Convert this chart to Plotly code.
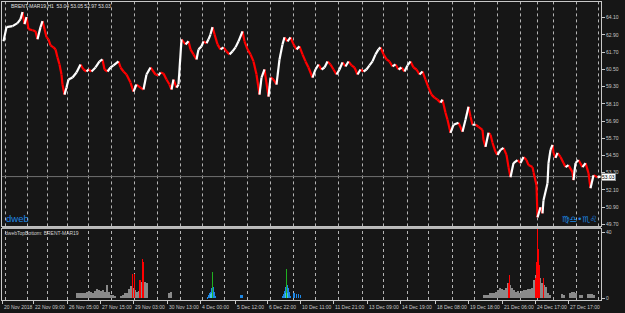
import plotly.graph_objects as go

# ---------------- data ----------------
# H1 bar index and close price (BRENT-MAR19)
bar_idx = [1, 4, 10, 15, 18, 20, 22, 24, 26, 30, 33, 35, 38, 40, 42, 44, 46, 48, 51, 53,
           55, 57, 59, 60, 62, 64, 66, 70, 74, 78, 81, 84, 86, 89, 93, 97, 100, 102, 105, 108,
           111, 116, 118, 121, 124, 128, 131, 134, 138, 141, 144, 148, 153, 156, 158, 161, 164, 167, 169, 171,
           174, 176, 179, 183, 186, 188, 191, 194, 196, 199, 201, 204, 206, 208, 210, 212, 215, 218, 221, 224,
           227, 230, 233, 236, 240, 242, 245, 248, 251, 254, 257, 259, 262, 266, 268, 271, 274, 277, 280, 282,
           285, 288, 291, 294, 297, 300, 303, 306, 310, 313, 316, 319, 322, 325, 328, 331, 334, 337, 340, 343,
           346, 349, 352, 355, 358, 361, 364, 367, 370, 373, 376, 378, 381, 384, 387, 390, 393, 396, 399, 402,
           405, 408, 411, 414, 417, 420, 423, 426, 429, 432, 435, 438, 440, 443, 445, 448, 451, 456, 460, 463,
           466, 468, 470, 473, 476, 480, 481, 483, 486, 488, 490, 493, 495, 498, 501, 504, 506, 508, 511, 515,
           518, 521, 524, 526, 530, 531, 534, 535, 538, 540, 541, 545, 546, 548, 550, 551, 553, 555, 558, 561,
           563, 566, 570, 571, 573, 576, 580, 583, 586, 588, 591, 595, 598]
close_px = [62.45, 63.44, 63.51, 63.72, 64.00, 64.49, 63.65, 64.14, 63.30, 63.22, 63.15, 62.59, 63.44, 63.86, 63.30, 62.73, 62.59, 62.17, 62.03, 61.89,
            61.33, 60.84, 60.14, 59.44, 58.74, 59.23, 59.79, 59.93, 60.28, 60.84, 60.49, 60.35, 60.49, 60.35, 60.63, 61.05, 61.19, 60.49, 60.35, 60.63,
            60.77, 61.05, 60.63, 60.35, 60.14, 59.58, 58.95, 59.44, 59.23, 59.09, 60.14, 60.63, 60.14, 60.07, 60.28, 60.21, 59.79, 59.44, 59.09, 59.79,
            59.23, 59.44, 62.59, 62.24, 62.45, 61.89, 61.54, 61.19, 61.89, 62.10, 62.45, 62.31, 62.59, 62.94, 63.44, 62.94, 62.24, 61.89, 62.03, 61.75,
            61.54, 61.75, 62.03, 62.45, 63.15, 62.45, 61.89, 61.54, 61.05, 60.14, 58.74, 59.93, 60.49, 58.60, 59.93, 59.79, 59.44, 61.19, 62.24, 62.73,
            62.45, 62.73, 62.24, 61.89, 62.10, 61.54, 61.05, 60.63, 59.93, 60.49, 60.84, 60.49, 60.63, 61.05, 60.84, 60.49, 60.14, 60.49, 60.98, 60.70,
            61.05, 60.77, 60.63, 60.14, 60.49, 60.35, 60.49, 60.77, 61.05, 61.54, 61.89, 62.03, 61.54, 61.19, 61.05, 60.70, 60.84, 60.49, 60.63, 60.35,
            60.77, 61.05, 60.63, 60.49, 60.14, 60.35, 59.79, 59.23, 58.74, 58.53, 58.39, 58.18, 58.39, 57.48, 56.99, 56.08, 56.64, 56.78, 56.15, 56.99,
            57.90, 57.20, 56.64, 56.64, 56.50, 56.29, 55.59, 55.10, 56.08, 55.94, 55.38, 54.75, 54.54, 54.89, 55.03, 54.54, 53.69, 52.99, 53.97, 54.18,
            53.97, 54.40, 54.18, 53.83, 53.69, 53.34, 52.43, 50.19, 50.89, 50.47, 51.38, 52.57, 53.97, 54.89, 55.24, 54.68, 54.33, 54.68, 54.40, 53.97,
            53.69, 53.83, 53.34, 52.78, 53.97, 54.18, 53.69, 53.97, 53.27, 52.22, 53.13, 52.99, 53.03]
last_price = 53.03

# indicator dwebTopBottom
gray_idx = [74, 76, 78, 80, 82, 84, 86, 88, 90, 92, 94, 96, 98, 100, 102, 104, 106, 108, 110, 112,
            118, 120, 122, 124, 126, 128, 130, 132, 134, 136, 138, 140, 142, 144,
            166, 168,
            481, 483, 485, 487, 489, 491, 493, 495, 497, 499, 501, 503, 505, 507, 509, 511, 513,
            515, 517, 519, 521, 523, 525, 527, 529, 531, 533, 535, 537, 539, 541, 543, 545, 547,
            559, 561, 567, 569, 571, 573, 577, 579, 585, 587, 589, 591]
gray_val = [3.5, 3.5, 3, 3.5, 3.5, 4, 4.5, 4, 3.5, 4.5, 5.5, 5, 4.5, 5, 4, 8, 4, 2, 2, 1.5,
            1.5, 2, 3, 3.5, 5.5, 7.5, 6, 5, 4, 4.5, 10, 11, 10, 9,
            3.5, 4,
            2, 2, 2, 3.5, 3.5, 3.5, 4, 5, 6, 5.5, 5, 6.5, 9.5, 8, 6, 5, 4,
            4.5, 3.5, 4.5, 5, 5, 5.5, 5.5, 6.5, 11, 14, 15, 12, 9.5, 8, 7, 3, 2,
            2.5, 2, 3, 4, 4, 3, 2, 2, 2.5, 2.5, 2.5, 2]
red_idx = [130, 132, 137, 138, 140, 141, 506, 507, 533, 534, 535, 536, 537, 541]
red_val = [15, 15, 11, 11, 24, 22, 9, 14, 12, 22, 44, 30, 20, 12.5]
blue_idx = [205, 206, 207, 208, 209, 210, 211, 212, 213, 238, 239, 240,
            280, 281, 282, 283, 284, 285, 286, 287, 288, 291, 292, 294, 296, 298]
blue_val = [1, 2, 3, 4, 6, 7, 7, 4, 1.5, 2, 2, 2,
            1.5, 2.5, 4.5, 7, 9, 8, 6.5, 4, 1.5, 3.5, 3.5, 2.5, 2.5, 2]
cyan_idx = [208, 209, 210, 283, 284, 285]
cyan_val = [2.5, 3.5, 3, 3, 4.5, 3.5]
green_idx = [210, 284]
green_val = [16, 18]

# axes
price_ticks = [49.70, 50.90, 52.10, 53.30, 54.50, 55.70, 56.90, 58.10, 59.30, 60.50, 61.70, 62.90, 64.10]
ind_ticks = [0, 40]
day_bars = [3, 25, 45, 65, 86, 109, 132, 155, 178, 200, 222, 245, 268, 291, 313, 336, 360, 381,
            405, 426, 450, 472, 495, 518, 535, 551, 574, 596]
time_bars = [0, 31, 65, 98, 131, 165, 198, 233, 265, 298, 331, 365, 398, 433, 466, 500, 533, 566]
time_labels = ["20 Nov 2018", "22 Nov 09:00", "26 Nov 05:00", "27 Nov 15:00", "29 Nov 03:00",
               "30 Nov 13:00", "4 Dec 00:00", "5 Dec 12:00", "6 Dec 22:00", "10 Dec 11:00",
               "11 Dec 21:00", "13 Dec 09:00", "14 Dec 19:00", "18 Dec 08:00", "19 Dec 18:00",
               "21 Dec 06:00", "24 Dec 17:00", "27 Dec 17:00"]

# ---------------- figure ----------------
FONT = "Liberation Sans"
TXT = "#c8c8c8"
FRAME = "#c8c8c8"
BG = "#161616"
FS = 5

up_x, up_y, dn_x, dn_y = [], [], [], []
for i in range(len(bar_idx) - 1):
    if close_px[i + 1] >= close_px[i]:
        up_x += [bar_idx[i], bar_idx[i + 1], None]
        up_y += [close_px[i], close_px[i + 1], None]
    else:
        dn_x += [bar_idx[i], bar_idx[i + 1], None]
        dn_y += [close_px[i], close_px[i + 1], None]

fig = go.Figure()
fig.add_trace(go.Scatter(x=dn_x, y=dn_y, mode="lines", line=dict(color="#ff0000", width=2.2),
                         xaxis="x", yaxis="y", hoverinfo="skip"))
fig.add_trace(go.Scatter(x=up_x, y=up_y, mode="lines", line=dict(color="#ffffff", width=2.2),
                         xaxis="x", yaxis="y", hoverinfo="skip"))

fig.add_trace(go.Bar(x=gray_idx, y=gray_val, width=2, marker=dict(color="#8a8a8a", line=dict(width=0)),
                     xaxis="x2", yaxis="y2"))
fig.add_trace(go.Bar(x=blue_idx, y=blue_val, width=1, marker=dict(color="#1e88e5", line=dict(width=0)),
                     xaxis="x2", yaxis="y2"))
fig.add_trace(go.Bar(x=cyan_idx, y=cyan_val, width=1, marker=dict(color="#40c4f0", line=dict(width=0)),
                     xaxis="x2", yaxis="y2"))
fig.add_trace(go.Bar(x=green_idx, y=green_val, width=1, marker=dict(color="#20b020", line=dict(width=0)),
                     xaxis="x2", yaxis="y2"))
fig.add_trace(go.Bar(x=red_idx, y=red_val, width=1, marker=dict(color="#ff0000", line=dict(width=0)),
                     xaxis="x2", yaxis="y2"))

shapes = []
for b in day_bars:
    for yr in ("y domain", "y2 domain"):
        shapes.append(dict(type="line", xref="x", yref=yr, x0=b, x1=b, y0=0, y1=1,
                           line=dict(color="#b4b4b4", width=1, dash="dot"), layer="below"))
shapes.append(dict(type="line", xref="x domain", yref="y", x0=0, x1=1, y0=last_price, y1=last_price,
                   line=dict(color="#707070", width=1), layer="below"))
# separator between windows
shapes.append(dict(type="rect", xref="paper", yref="paper", x0=0, x1=1, y0=0.238, y1=0.247,
                   fillcolor="#b8b8b8", line=dict(width=0)))

annotations = [
    dict(text="BRENT-MAR19,H1  53.04 53.05 52.97 53.03", xref="paper", yref="paper",
         x=0.013, y=0.985, xanchor="left", yanchor="middle", showarrow=False, borderpad=0,
         font=dict(family=FONT, size=FS, color="#e0e0e0")),
    dict(text="dweb", xref="paper", yref="paper", x=0.003, y=0.273, xanchor="left", yanchor="middle",
         showarrow=False, font=dict(family=FONT, size=9.5, color="#1e88e5")),
    dict(text="♍♎•♏♌", xref="paper", yref="paper", x=0.998, y=0.273, xanchor="right", yanchor="middle",
         showarrow=False, font=dict(family="DejaVu Sans", size=8.5, color="#1e88e5")),
    dict(text="dwebTopBottom: BRENT-MAR19", xref="paper", yref="paper", x=0.003, y=0.225,
         xanchor="left", yanchor="middle", showarrow=False, borderpad=0,
         font=dict(family=FONT, size=FS, color="#d0d0d0")),
    dict(text=f"{last_price:.2f}", xref="paper", yref="y", x=1.0, y=last_price, xanchor="left",
         yanchor="middle", showarrow=False, bgcolor="#ffffff", bordercolor="#909090", borderwidth=1,
         borderpad=0, font=dict(family=FONT, size=FS, color="#000000")),
]
for b, lab in zip(time_bars, time_labels):
    annotations.append(dict(text=lab, xref="x2", yref="paper", x=b, y=-0.024, xanchor="left",
                            yanchor="middle", showarrow=False, borderpad=0,
                            font=dict(family=FONT, size=FS, color=TXT)))

xr = [-0.5, 598.5]
fig.update_layout(
    width=625, height=313,
    margin=dict(l=2, r=24, t=2, b=13),
    paper_bgcolor=BG, plot_bgcolor=BG,
    showlegend=False, barmode="overlay", bargap=0,
    shapes=shapes, annotations=annotations,
    xaxis=dict(domain=[0, 1], anchor="y", range=xr, showticklabels=False, showgrid=False,
               zeroline=False, showline=True, mirror=True, linecolor=FRAME, linewidth=1, ticks=""),
    yaxis=dict(domain=[0.247, 1], anchor="x", side="right", range=[49.56, 65.19],
               tickvals=price_ticks, ticktext=[f"{v:.2f}" for v in price_ticks],
               ticks="outside", ticklen=3, tickcolor=FRAME, showgrid=False, zeroline=False,
               showline=True, mirror=True, linecolor=FRAME, linewidth=1,
               tickfont=dict(family=FONT, size=FS, color=TXT)),
    xaxis2=dict(domain=[0, 1], anchor="y2", range=xr, tickvals=time_bars,
                ticktext=["" for _ in time_bars], ticks="outside", ticklen=3, tickcolor=FRAME,
                showgrid=False, zeroline=False, showline=True, mirror=True, linecolor=FRAME, linewidth=1),
    yaxis2=dict(domain=[0, 0.238], anchor="x2", side="right", range=[-1, 42],
                tickvals=ind_ticks, ticktext=[str(v) for v in ind_ticks],
                ticks="outside", ticklen=3, tickcolor=FRAME, showgrid=False, zeroline=False,
                showline=True, mirror=True, linecolor=FRAME, linewidth=1,
                tickfont=dict(family=FONT, size=FS, color=TXT)),
)

fig.write_html("out.html")
